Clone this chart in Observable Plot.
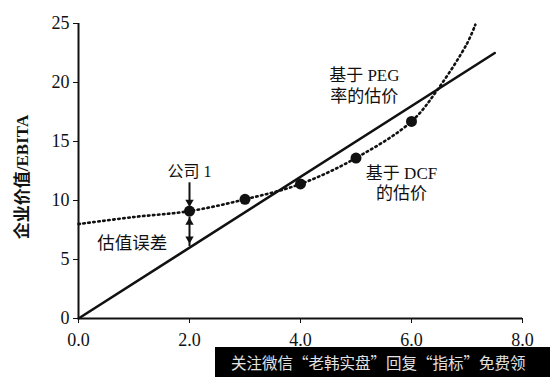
<!DOCTYPE html>
<html><head><meta charset="utf-8">
<script src="https://cdn.jsdelivr.net/npm/d3@7"></script>
<script src="https://cdn.jsdelivr.net/npm/@observablehq/plot@0.6"></script>
<style>
body{margin:0;background:#fff;}
#wrap{position:relative;width:550px;height:377px;overflow:hidden;}
#wm{position:absolute;left:215px;top:347px;width:335px;height:30px;background:#000;color:#e2e2e2;
font-family:"Noto Sans CJK SC",sans-serif;font-size:15.5px;line-height:30px;white-space:nowrap;padding-left:16px;box-sizing:border-box;}
</style></head>
<body><div id="wrap"><div id="chart"></div><div id="wm">关注微信“老韩实盘”回复“指标”免费领</div></div>
<script>
// PEG-based valuation line
const pegX = [0, 7.5];
const pegY = [0, 22.5];
// DCF-based valuation curve (dotted)
const dcfX = [0, 1, 2, 3, 4, 5, 6, 6.5, 7, 7.15];
const dcfY = [8, 8.6, 9.1, 10.1, 11.4, 13.6, 16.7, 19.6, 23.3, 24.9];
// company dots
const dotX = [2, 3, 4, 5, 6];
const dotY = [9.1, 10.1, 11.4, 13.6, 16.7];
// ticks
const xTicks = [0, 2, 4, 6, 8];
const yTicks = [0, 5, 10, 15, 20, 25];
// annotations
const labels = [
  {x: 2.0, y: 12.4, text: "公司 1", size: 16},
  {x: 0.97, y: 6.4, text: "估值误差", size: 17.5},
  {x: 5.15, y: 20.6, text: "基于 PEG", size: 17},
  {x: 5.15, y: 18.8, text: "率的估价", size: 17},
  {x: 5.82, y: 12.3, text: "基于 DCF", size: 17},
  {x: 5.82, y: 10.6, text: "的估价", size: 17}
];
// error arrow
const arrowSegs = [{x: 2, y1: 11.5, y2: 9.6}, {x: 2, y1: 8.6, y2: 6.1}];
const arrowHeads = [{x: 2, y: 9.85, rot: 180}, {x: 2, y: 8.15, rot: 0}, {x: 2, y: 6.75, rot: 180}];

const peg = pegX.map((x, i) => ({x, y: pegY[i]}));
const dcf = dcfX.map((x, i) => ({x, y: dcfY[i]}));
const dots = dotX.map((x, i) => ({x, y: dotY[i]}));

const font = '"Liberation Serif","Noto Sans CJK SC",serif';
const chart = Plot.plot({
  width: 550, height: 377,
  marginLeft: 78, marginRight: 28, marginTop: 23, marginBottom: 59,
  style: {fontFamily: font, fontSize: "18px", color: "#111", background: "#fff"},
  x: {domain: [0, 8], ticks: xTicks, tickFormat: d => d.toFixed(1), tickSize: 5, tickPadding: 10, label: null},
  y: {domain: [0, 25], ticks: yTicks, tickSize: 5, tickPadding: 4, label: null},
  marks: [
    Plot.ruleX([0], {y1: 0, y2: 25, strokeWidth: 2, stroke: "#111"}),
    Plot.ruleY([0], {x1: 0, x2: 8, strokeWidth: 2, stroke: "#111"}),
    Plot.line(peg, {x: "x", y: "y", strokeWidth: 2.6, stroke: "#111"}),
    Plot.line(dcf, {x: "x", y: "y", curve: "catmull-rom", strokeWidth: 2.6, stroke: "#111", strokeDasharray: "1.5,3.5"}),
    Plot.ruleX(arrowSegs, {x: "x", y1: "y1", y2: "y2", strokeWidth: 2, stroke: "#111"}),
    Plot.dot(arrowHeads, {x: "x", y: "y", rotate: "rot", symbol: "triangle2", r: 4, fill: "#111"}),
    Plot.dot(dots, {x: "x", y: "y", r: 5.5, fill: "#111"}),
    Plot.text(labels, {x: "x", y: "y", text: "text", fontSize: "size", fill: "#111", fontFamily: font}),
    Plot.text(["企业价值/EBITA"], {frameAnchor: "left", textAnchor: "middle", dx: -56, dy: 6, rotate: -90, fontWeight: "bold", fontSize: 17, fill: "#111", fontFamily: font})
  ]
});
document.getElementById("chart").appendChild(chart);
</script></body></html>
